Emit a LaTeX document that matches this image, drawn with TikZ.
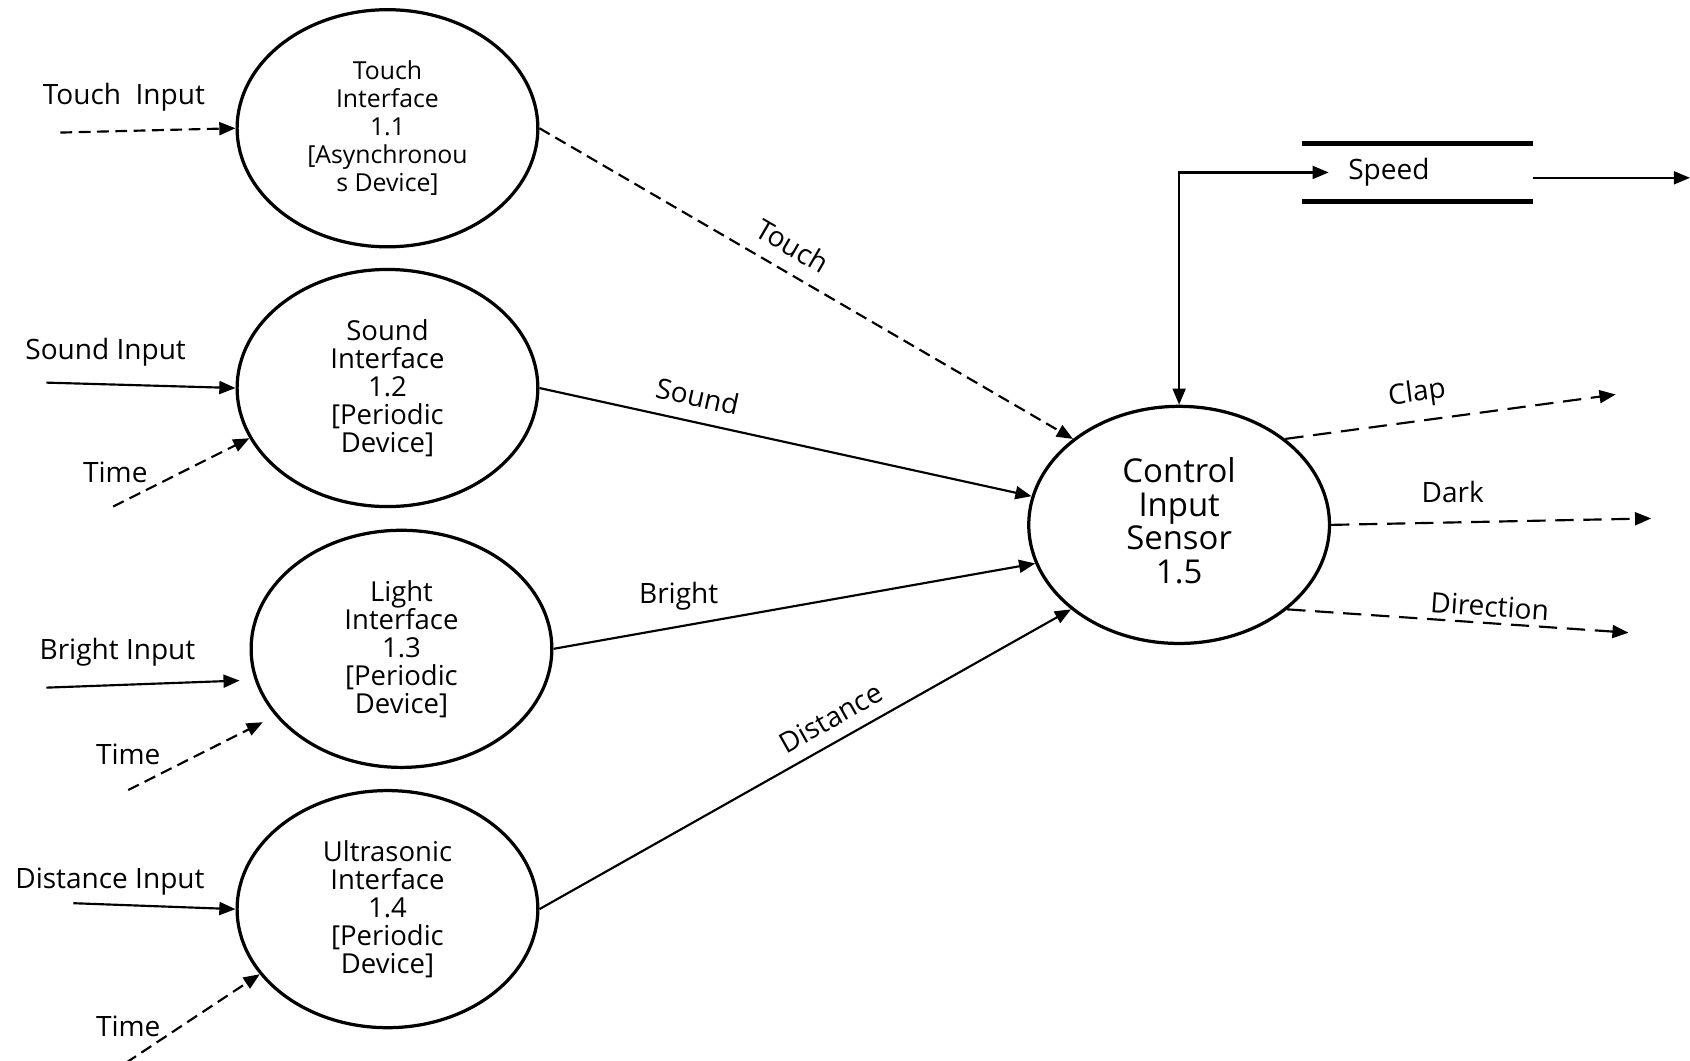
\documentclass[tikz,border=0pt]{standalone}
\usepackage{fontspec}
\setmainfont{Open Sans}
\usetikzlibrary{arrows.meta,shapes.geometric}

\tikzset{
  proc/.style={ellipse, draw, line width=3pt, minimum width=279pt, minimum height=220pt,
    inner sep=0pt, align=center, font=\fontsize{25.5}{26}\selectfont},
  tip/.style={-{Triangle[length=15pt,width=12pt]}},
  flow/.style={line width=2pt, tip},
  dashin/.style={flow, dash pattern=on 11pt off 6pt},
  dashout/.style={flow, dash pattern=on 17pt off 9pt},
  lbl/.style={font=\fontsize{26}{26}\selectfont, inner sep=2pt},
  storeline/.style={line width=4.5pt}
}

\begin{document}
\begin{tikzpicture}[x=1pt,y=-1pt]
\useasboundingbox (0,0) rectangle (1568,984);

% processes
\node[proc, font=\fontsize{23}{26}\selectfont] (s11) at (359.5,119)
  {Touch\\Interface\\1.1\\{[}Asynchronou\\s Device]};
\node[proc] (s12) at (359.5,360) {Sound\\Interface\\1.2\\{[}Periodic\\Device]};
\node[proc] (s13) at (372.5,602) {Light\\Interface\\1.3\\{[}Periodic\\Device]};
\node[proc] (s14) at (359.5,843.5) {Ultrasonic\\Interface\\1.4\\{[}Periodic\\Device]};
\node[proc, font=\fontsize{30.5}{31}\selectfont] (ctrl) at (1094,487)
  {Control\\Input\\Sensor\\1.5\\[-23pt]};

% data store
\node[lbl, minimum height=54pt, inner xsep=43pt, text width=128pt, align=left] (store)
  at (1315,160) {Speed};
\draw[storeline] (store.north west) -- (store.north east);
\draw[storeline] (store.south west) -- (store.south east);

% external input labels
\node[lbl] (lt) at (115,90) {Touch\ \ Input};
\node[lbl] (ls) at (98,327) {Sound Input};
\node[lbl] (ltm2) at (107,438) {Time};
\node[lbl] (lb) at (109,605) {Bright Input};
\node[lbl] (ltm3) at (119,700) {Time};
\node[lbl] (ld) at (102,818) {Distance Input};
\node[lbl] (ltm4) at (119,952) {Time};

% free ends
\coordinate (tin) at (56,123);
\coordinate (sin) at (43,355);
\coordinate (t2) at (105,470);
\coordinate (bin) at (43,638);
\coordinate (t3) at (119,733);
\coordinate (din) at (68,838);
\coordinate (t4) at (117,986);
\coordinate (oclap) at (1499,366);
\coordinate (odark) at (1532,481);
\coordinate (odir) at (1511,587);
\coordinate (ospeed) at (1568,165);

% inputs
\draw[dashin] (tin) -- (s11.west);
\draw[flow] (sin) -- (s12.west);
\draw[dashin] (t2) -- (s12.200);
\draw[flow, shorten >=14pt] (bin) -- (s13.192);
\draw[dashin, shorten >=13pt] (t3) -- (s13.208);
\draw[flow] (din) -- (s14.west);
\draw[dashin] (t4) -- (s14.207);

% flows into the control process
\draw[dashin] (s11.east) -- node[lbl, pos=0.45, sloped, above=11pt] {Touch} (ctrl.141.8);
\draw[flow] (s12.east) -- node[lbl, pos=0.31, sloped, above=11pt] {Sound} (ctrl.169.5);
\draw[flow] (s13.east) -- node[lbl, pos=0.26, above=12pt] {Bright} (ctrl.195.8);
\draw[flow] (s14.east) -- node[lbl, pos=0.57, sloped, above=9pt] {Distance} (ctrl.218.2);

% speed store link
\draw[line width=2pt, {Triangle[length=15pt,width=12pt]}-{Triangle[length=15pt,width=12pt]}]
  (ctrl.north) |- ([xshift=25pt]store.west);
\draw[flow] ([yshift=-5pt]store.east) -- (ospeed);

% outputs
\draw[dashout] (ctrl.39) -- node[lbl, pos=0.41, sloped, above=9pt] {Clap} (oclap);
\draw[dashout] (ctrl.east) -- node[lbl, pos=0.38, above=15pt] {Dark} (odark);
\draw[dashout] (ctrl.-38) -- node[lbl, pos=0.59, sloped, above=3pt] {Direction} (odir);
\end{tikzpicture}
\end{document}
